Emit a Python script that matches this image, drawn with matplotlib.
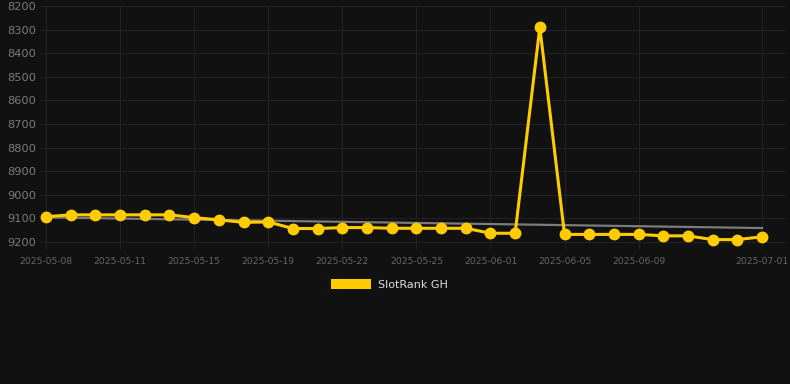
import numpy as np
import matplotlib
matplotlib.use('Agg')
import matplotlib.pyplot as plt
from matplotlib.patches import Patch

dates = ['2025-05-08', '2025-05-09', '2025-05-10', '2025-05-11', '2025-05-12',
         '2025-05-13', '2025-05-15', '2025-05-16', '2025-05-17', '2025-05-19',
         '2025-05-20', '2025-05-21', '2025-05-22', '2025-05-23', '2025-05-24',
         '2025-05-25', '2025-05-27', '2025-05-29', '2025-06-01', '2025-06-02',
         '2025-06-03', '2025-06-05', '2025-06-06', '2025-06-07', '2025-06-09',
         '2025-06-10', '2025-06-11', '2025-06-13', '2025-06-20', '2025-07-01']
rank = [9093, 9085, 9085, 9085, 9085, 9085, 9097, 9106, 9117, 9115,
        9143, 9143, 9139, 9139, 9142, 9142, 9142, 9142, 9163, 9163,
        8290, 9168, 9168, 9168, 9168, 9174, 9174, 9190, 9190, 9178]
# trend line values at first and last date
trend = [9096, 9141]
shown_ticks = [0, 3, 6, 9, 12, 15, 18, 21, 24, 29]
y_ticks = list(range(8200, 9201, 100))

bg = '#111111'
yellow = '#ffcc00'

fig = plt.figure(figsize=(7.9, 3.84), dpi=100, facecolor=bg)
ax = fig.add_axes([40 / 790, 1 - 250 / 384, 745 / 790, 244 / 384])
ax.set_facecolor(bg)

x = np.arange(len(rank))

ax.plot([x[0], x[-1]], trend, color='#7c7c7c', linewidth=1.6, zorder=2)
ax.plot(x, rank, color=yellow, linewidth=2.2, marker='o', markersize=7.5,
        zorder=3)

ax.set_xlim(-0.243, 29.93)
ax.set_ylim(9234, 8200)
ax.set_yticks(y_ticks)
ax.set_yticklabels([str(v) for v in y_ticks])
ax.set_xticks(shown_ticks)
ax.set_xticklabels([dates[i] for i in shown_ticks])

ax.tick_params(axis='y', length=0, pad=3, labelsize=8.2, labelcolor='#7a7a7a')
ax.tick_params(axis='x', length=0, pad=5, labelsize=6.6, labelcolor='#666666')
ax.grid(True, color='#222222', linewidth=0.8)
ax.set_axisbelow(True)
for s in ax.spines.values():
    s.set_visible(False)

fig.legend(handles=[Patch(facecolor=yellow, edgecolor='none')],
           labels=['SlotRank GH'], loc='upper center',
           bbox_to_anchor=(0.5 - 5.5 / 790, 1 - 269 / 384), frameon=False,
           fontsize=8, labelcolor='#dddddd', handlelength=3.6,
           handleheight=1.0, handletextpad=0.6)

fig.savefig('out.png', dpi=100, facecolor=bg)
